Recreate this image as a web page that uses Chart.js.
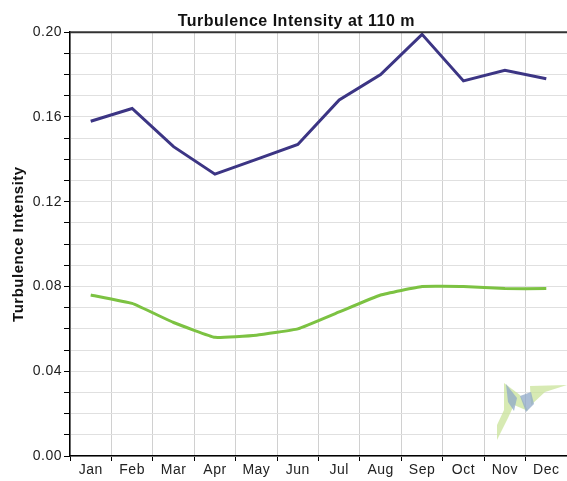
<!DOCTYPE html>
<html>
<head>
<meta charset="utf-8">
<script src="https://cdn.jsdelivr.net/npm/chart.js@4"></script>
<style>
  html, body { margin: 0; padding: 0; background: #fff; }
  #wrap { width: 567px; height: 481px; }
</style>
</head>
<body>
<div id="wrap"><canvas id="tiChart" width="567" height="481"></canvas></div>
<script>
// DATA
const months = ["Jan", "Feb", "Mar", "Apr", "May", "Jun", "Jul", "Aug", "Sep", "Oct", "Nov", "Dec"];
const upperSeries = [0.158, 0.164, 0.146, 0.133, 0.140, 0.147, 0.168, 0.180, 0.199, 0.177, 0.182, 0.178];
const lowerSeries = [0.076, 0.072, 0.063, 0.056, 0.057, 0.060, 0.068, 0.076, 0.080, 0.080, 0.079, 0.079];
const yLabelEvery = 0.04;

const FONT = "'Liberation Sans', Arial, sans-serif";

// wider text like the original, top border of the plot + faint logo in the corner
const framePlugin = {
  id: "frame",
  beforeDraw(chart) {
    chart.ctx.letterSpacing = "0.5px";
  },
  afterDraw(chart) {
    const { ctx, chartArea: a } = chart;
    ctx.save();
    ctx.strokeStyle = "#333";
    ctx.lineWidth = 2;
    ctx.beginPath();
    ctx.moveTo(a.left, a.top);
    ctx.lineTo(a.right, a.top);
    ctx.stroke();

    // logo watermark
    ctx.globalAlpha = 0.75;
    ctx.fillStyle = "#c9e39a";
    ctx.beginPath();
    ctx.moveTo(504, 383); ctx.lineTo(520, 395); ctx.lineTo(528, 411); ctx.lineTo(514, 405);
    ctx.lineTo(508, 418); ctx.lineTo(497, 440); ctx.lineTo(497, 425); ctx.lineTo(504, 410);
    ctx.closePath(); ctx.fill();
    ctx.beginPath();
    ctx.moveTo(530, 386); ctx.lineTo(567, 385); ctx.lineTo(545, 392); ctx.lineTo(531, 405);
    ctx.closePath(); ctx.fill();
    ctx.fillStyle = "#8fa8c8";
    ctx.beginPath();
    ctx.moveTo(506, 384); ctx.lineTo(517, 398); ctx.lineTo(514, 411); ctx.lineTo(508, 402);
    ctx.closePath(); ctx.fill();
    ctx.beginPath();
    ctx.moveTo(520, 396); ctx.lineTo(531, 392); ctx.lineTo(534, 404); ctx.lineTo(526, 412);
    ctx.closePath(); ctx.fill();
    ctx.restore();
  }
};

const canvasHTML = document.getElementById("tiChart");
const tiChart = new Chart(canvasHTML, {
  type: "line",
  data: {
    labels: months,
    datasets: [
      {
        label: "Upper",
        data: upperSeries,
        borderColor: "#3c3584",
        borderWidth: 3,
        pointRadius: 0,
        tension: 0,
      },
      {
        label: "Lower",
        data: lowerSeries,
        borderColor: "#7cc242",
        borderWidth: 3,
        pointRadius: 0,
        tension: 0.1,
      },
    ],
  },
  options: {
    responsive: false,
    animation: false,
    layout: { padding: { left: 0, right: -1, top: 0, bottom: 0 } },
    plugins: {
      legend: { display: false },
      tooltip: { enabled: false },
      title: {
        display: true,
        // leading spaces push the title over the plot centre
        text: "     Turbulence Intensity at 110 m",
        color: "#111",
        font: { family: FONT, size: 16, weight: "bold" },
        padding: { top: 12, bottom: 1 },
      },
    },
    scales: {
      x: {
        offset: true,
        grid: {
          offset: true,
          color: "#d0d0d0",
          tickColor: "#000",
          tickLength: 5,
        },
        border: { color: "#000", width: 1.5 },
        ticks: {
          color: "#222",
          font: { family: FONT, size: 14 },
          padding: 1,
          maxRotation: 0,
        },
        afterFit(scale) { scale.height = 25; },
      },
      y: {
        min: 0,
        max: 0.2,
        grid: {
          color: "#e0e0e0",
          tickColor: "#000",
          tickLength: 6,
        },
        border: { color: "#000", width: 1.5 },
        ticks: {
          stepSize: 0.01,
          autoSkip: false,
          color: "#222",
          font: { family: FONT, size: 14 },
          padding: 2,
          callback: v => {
            const r = Math.round(v * 100);
            return r % Math.round(yLabelEvery * 100) === 0 ? v.toFixed(2) : "";
          },
        },
        title: {
          display: true,
          text: "Turbulence Intensity",
          color: "#111",
          font: { family: FONT, size: 15, weight: "bold" },
          padding: { top: 10, bottom: 0 },
        },
        afterFit(scale) { scale.width = 70; },
      },
    },
  },
  plugins: [framePlugin],
});
</script>
</body>
</html>
